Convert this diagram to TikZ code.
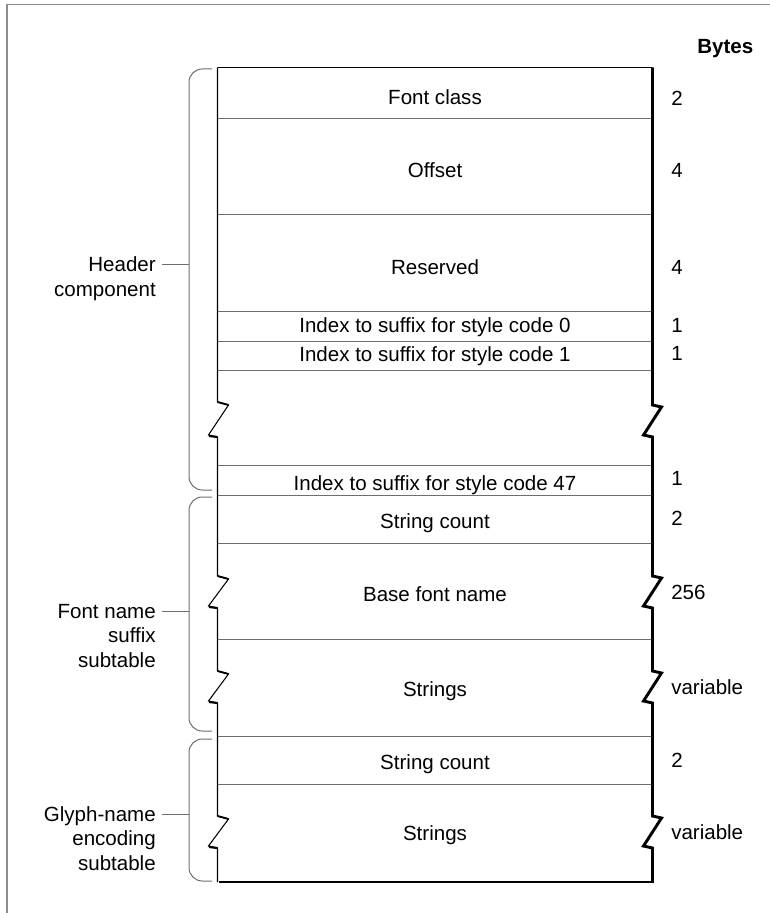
\documentclass[tikz,border=0pt]{standalone}
\usepackage{fontspec}
\setmainfont{Liberation Sans}
\definecolor{divgray}{RGB}{110,110,110}
\definecolor{framegray}{RGB}{140,140,140}
\newcommand{\tfont}{\fontsize{15.4}{18.5}\selectfont}
\begin{document}
\begin{tikzpicture}[x=0.75pt,y=-0.75pt,
  cell/.style={anchor=base,font=\tfont,inner sep=0pt},
  num/.style={anchor=base west,font=\tfont,inner sep=0pt},
  lbl/.style={anchor=base east,font=\tfont,inner sep=0pt},
  divider/.style={draw=divgray,line width=0.75pt},
  bracepath/.style={draw=divgray,line width=0.75pt,rounded corners=10pt},
  tick/.style={draw=divgray,line width=0.75pt},
  edgeL/.style={draw=black,line width=0.8pt},
  edgeR/.style={draw=black,line width=2.2pt},
  framel/.style={draw=framegray,line width=0.9pt}]
\useasboundingbox (0,0) rectangle (770,913);
% outer frame (top and left only)
\draw[framel] (7,913) -- (7,4.5) -- (770,4.5);

% table outline
\draw[edgeL] (217.5,67.5) -- (652,67.5);
\draw[edgeL] (217.5,67.5) -- (217.5,402) -- ++(11,3) -- ++(-20,30) -- ++(9,2)
  -- (217.5,576) -- ++(11,3) -- ++(-20,27) -- ++(9,2)
  -- (217.5,671) -- ++(11,3) -- ++(-20,27) -- ++(9,2)
  -- (217.5,816) -- ++(11,3) -- ++(-20,27) -- ++(9,2)
  -- (217.5,882);
\foreach \yy in {437,608,703,848} \draw[line width=1.6pt] (209,\yy-1) -- (217.5,\yy);
\foreach \yy in {402,576,671,816} \draw[line width=1.4pt] (217.5,\yy) -- (228.5,\yy+3);
\draw[edgeR] (652.5,67.5) -- (652.5,405) -- ++(9,2) -- ++(-18,28) -- ++(9,2)
  -- (652.5,576) -- ++(9,2) -- ++(-18,28) -- ++(9,2)
  -- (652.5,671) -- ++(9,2) -- ++(-18,28) -- ++(9,2)
  -- (652.5,816) -- ++(9,2) -- ++(-18,28) -- ++(9,2)
  -- (652.5,882.5);
\draw[edgeR] (219,882) -- (653.6,882);

% dividers
\foreach \yy in {119,214,311,341,370,465,495,543,639,736,784}
  \draw[divider] (218,\yy) -- (651.4,\yy);

% cell texts
\node[cell] (fc)  at (435,105) {Font class};
\node[cell] (off) at (435,177) {Offset};
\node[cell] (res) at (435,274) {Reserved};
\node[cell] (i0)  at (435,332) {Index to suffix for style code 0};
\node[cell] (i1)  at (435,361) {Index to suffix for style code 1};
\node[cell] (i47) at (435,490) {Index to suffix for style code 47};
\node[cell] (sc1) at (435,528) {String count};
\node[cell] (bfn) at (435,601) {Base font name};
\node[cell] (st1) at (435,696) {Strings};
\node[cell] (sc2) at (435,769) {String count};
\node[cell] (st2) at (435,840) {Strings};

% bytes column
\node[num,font=\tfont\bfseries] (bytes) at (697,54) {Bytes};
\node[num] (b1)  at (671,106) {2};
\node[num] (b2)  at (671,177) {4};
\node[num] (b3)  at (671,274) {4};
\node[num] (b4)  at (671,332) {1};
\node[num] (b5)  at (671,360) {1};
\node[num] (b6)  at (671,485) {1};
\node[num] (b7)  at (671,525) {2};
\node[num] (b8)  at (671,599) {256};
\node[num] (b9)  at (671,694) {variable};
\node[num] (b10) at (671,767) {2};
\node[num] (b11) at (671,839) {variable};

% braces
\draw[bracepath] (212,69) -- (189,69) -- (189,490) -- (212,490);
\draw[bracepath] (212,497) -- (189,497) -- (189,731) -- (212,731);
\draw[bracepath] (212,739) -- (189,739) -- (189,881) -- (212,881);
\coordinate (t1) at (189,264);
\coordinate (t2) at (189,611);
\coordinate (t3) at (189,814);

% labels
\node[lbl] (h1) at (156,271.5) {Header};
\node[lbl] (h2) at (156,296) {component};
\node[lbl] (f1) at (156,618) {Font name};
\node[lbl] (f2) at (156,642.5) {suffix};
\node[lbl] (f3) at (156,667) {subtable};
\node[lbl] (g1) at (156,821) {Glyph-name};
\node[lbl] (g2) at (156,845.5) {encoding};
\node[lbl] (g3) at (156,870) {subtable};

\draw[tick] (t1) -- ([xshift=4.5pt]h1.east |- t1);
\draw[tick] (t2) -- ([xshift=4.5pt]f1.east |- t2);
\draw[tick] (t3) -- ([xshift=4.5pt]g1.east |- t3);
\end{tikzpicture}
\end{document}
